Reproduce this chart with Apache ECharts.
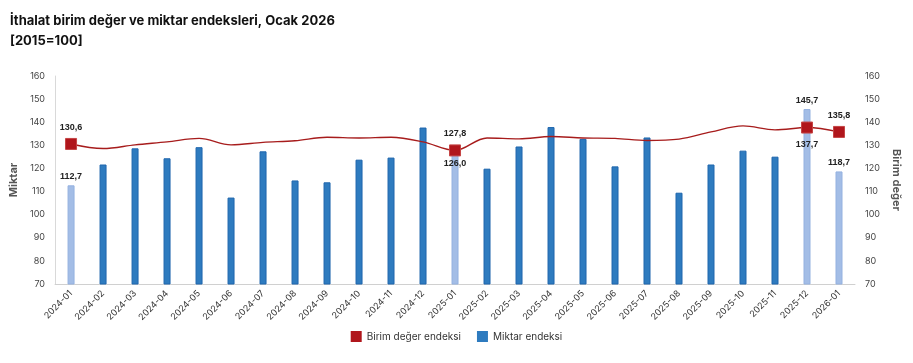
<!DOCTYPE html>
<html>
<head>
<meta charset="utf-8">
<script src="https://cdn.jsdelivr.net/npm/echarts@6/dist/echarts.min.js"></script>
<style>html,body{margin:0;padding:0;background:#fff}#c{width:913px;height:363px}</style>
</head>
<body>
<div id="c"></div>
<script>
const categories = ['2024-01','2024-02','2024-03','2024-04','2024-05','2024-06','2024-07','2024-08','2024-09','2024-10','2024-11','2024-12',
  '2025-01','2025-02','2025-03','2025-04','2025-05','2025-06','2025-07','2025-08','2025-09','2025-10','2025-11','2025-12','2026-01'];
const miktar = [112.7,121.7,128.7,124.4,129.2,107.4,127.4,114.8,114.0,123.8,124.7,137.7,
  126.0,119.9,129.5,137.9,132.8,120.9,133.4,109.5,121.7,127.7,125.1,145.7,118.7];
const birimDeger = [130.6,128.6,130.2,131.5,133.0,130.2,131.3,132.0,133.5,133.2,133.5,131.5,
  127.8,133.2,132.8,133.8,133.2,133.0,132.1,132.7,135.8,138.4,136.7,137.7,135.8];
const highlighted = ['2024-01','2025-01','2025-12','2026-01'];
const lineLabelPos = {'2024-01':'top','2025-01':'top','2025-12':'bottom','2026-01':'top'};
const barLabelPos = {'2024-01':'top','2025-01':'insideTop','2025-12':'top','2026-01':'top'};
const yTicks = {min:70, max:160, interval:10};

const fmt = v => v.toFixed(1).replace('.', ',');
const FONT = 'Inter, "Noto Sans", sans-serif';
const labelStyle = {show:true, fontSize:9, fontWeight:'bold', color:'#222', fontFamily:'"Liberation Sans", Arial, sans-serif'};

const barData = miktar.map((v,i)=>{
  const hl = highlighted.includes(categories[i]);
  const d = {value:v};
  if (hl) {
    d.itemStyle = {color:'#a3bde6', borderColor:'#94b1e0', borderWidth:1};
    d.label = Object.assign({}, labelStyle, {position:barLabelPos[categories[i]], distance:4, formatter:p=>fmt(p.value)});
  }
  return d;
});
const lineData = birimDeger.map((v,i)=>{
  const hl = highlighted.includes(categories[i]);
  const d = {value:v};
  if (hl) {
    d.symbol = 'rect';
    d.label = Object.assign({}, labelStyle, {position:lineLabelPos[categories[i]], distance:6, formatter:p=>fmt(p.value)});
  } else {
    d.symbol = 'none';
  }
  return d;
});

const chart = echarts.init(document.getElementById('c'), null, {renderer:'canvas'});
chart.setOption({
  animation:false,
  backgroundColor:'#fff',
  textStyle:{fontFamily:FONT},
  title:{
    text:'İthalat birim değer ve miktar endeksleri, Ocak 2026\n[2015=100]',
    left:5, top:6,
    textStyle:{fontSize:13, fontWeight:'bold', color:'#111', lineHeight:20, fontFamily:FONT}
  },
  legend:{
    bottom:16, left:'center',
    icon:'rect', itemWidth:11, itemHeight:11, itemGap:16,
    itemStyle:{borderWidth:0},
    textStyle:{fontSize:10, color:'#333', fontFamily:FONT},
    data:['Birim değer endeksi','Miktar endeksi']
  },
  grid:{left:51, right:58, top:76, bottom:79},
  xAxis:{
    type:'category', data:categories,
    axisLine:{lineStyle:{color:'#d0d0d0'}},
    axisTick:{show:false},
    axisLabel:{rotate:45, fontSize:9, color:'#333', margin:8, interval:0}
  },
  yAxis:[
    {type:'value', min:yTicks.min, max:yTicks.max, interval:yTicks.interval,
     name:'Miktar', nameLocation:'middle', nameGap:29,
     nameTextStyle:{fontSize:11, fontWeight:'bold', color:'#555'},
     axisLine:{show:true, lineStyle:{color:'#d9d9d9'}}, axisTick:{show:false},
     splitLine:{show:false},
     axisLabel:{fontSize:9, color:'#444', margin:10}},
    {type:'value', min:yTicks.min, max:yTicks.max, interval:yTicks.interval,
     name:'Birim değer', nameLocation:'middle', nameGap:26, nameRotate:-90,
     nameTextStyle:{fontSize:11, fontWeight:'bold', color:'#555'},
     axisLine:{show:false}, axisTick:{show:false},
     splitLine:{show:false},
     axisLabel:{fontSize:9, color:'#444', margin:10}}
  ],
  series:[
    {name:'Miktar endeksi', type:'bar', yAxisIndex:0, data:barData, barWidth:7,
     itemStyle:{color:'#2e7bbf', borderColor:'#1f66ad', borderWidth:1}, z:2},
    {name:'Birim değer endeksi', type:'line', yAxisIndex:1, data:lineData,
     smooth:0.35, symbolSize:11, showSymbol:true,
     lineStyle:{color:'#a71c1c', width:1.4},
     itemStyle:{color:'#b0161c', borderColor:'#c54545', borderWidth:1}, z:5}
  ]
});
</script>
</body>
</html>
